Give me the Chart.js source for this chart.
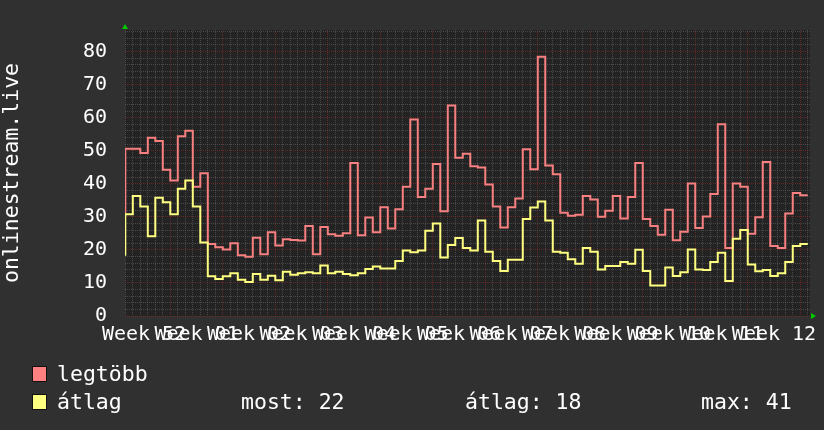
<!DOCTYPE html>
<html>
<head>
<meta charset="utf-8">
<script src="https://cdn.jsdelivr.net/npm/chart.js@4.4.1/dist/chart.umd.min.js"></script>
<style>
  html, body { margin: 0; padding: 0; background: #303030; }
  #wrap { position: relative; width: 824px; height: 430px; font-family: "DejaVu Sans Mono", monospace; color: #fff; }
  #chart { position: absolute; left: 0; top: 0; }
  .lg { position: absolute; font-size: 21.5px; line-height: 1; white-space: pre; }
  .sw { position: absolute; width: 13px; height: 14px; border: 1px solid #111; }
</style>
</head>
<body>
<div id="wrap">
  <canvas id="chart" width="824" height="430"></canvas>
  <div id="legend"></div>
</div>
<script>
// heti címkék (középre, a hét közepére)
const weekLabels = ['Week 52', 'Week 01', 'Week 02', 'Week 03', 'Week 04', 'Week 05', 'Week 06',
  'Week 07', 'Week 08', 'Week 09', 'Week 10', 'Week 11', 'Week 12'];

// napi értékek, az első elem egy rövid kezdő minta
const legtobb = [31,
  50.6, 50.6, 49.3, 53.9, 52.9, 44.2, 41.0, 54.4, 56.0, 39.1,
  43.2, 21.8, 20.8, 20.1, 22.0, 18.4, 17.9, 23.7, 18.7, 25.3,
  21.3, 23.2, 23.0, 22.8, 27.2, 18.7, 26.9, 24.7, 24.3, 25.0,
  46.3, 24.4, 29.8, 25.3, 32.9, 26.5, 32.3, 39.1, 59.4, 36.0,
  38.5, 46.0, 31.7, 63.7, 47.9, 49.1, 45.3, 44.9, 39.8, 33.1,
  26.8, 32.9, 35.5, 50.4, 44.4, 78.4, 45.5, 42.9, 31.2, 30.3,
  30.6, 36.3, 35.2, 30.0, 31.8, 36.3, 29.5, 36.0, 46.3, 29.3,
  27.2, 24.6, 32.1, 22.9, 25.5, 40.1, 26.6, 30.1, 36.9, 58.0,
  20.6, 40.1, 39.1, 24.9, 29.9, 46.6, 21.2, 20.6, 31.0, 37.2,
  36.5];

const atlag = [18.5,
  30.8, 36.3, 33.1, 24.1, 35.8, 34.4, 30.8, 38.5, 41.0, 33.1,
  22.2, 12.0, 11.2, 12.0, 12.9, 11.0, 10.3, 12.7, 11.0, 12.2,
  10.8, 13.4, 12.5, 12.9, 13.2, 12.9, 15.3, 12.9, 13.4, 12.7,
  12.3, 12.9, 14.2, 15.0, 14.4, 14.4, 16.6, 19.8, 19.3, 19.8,
  25.8, 28.0, 17.7, 21.5, 23.6, 20.6, 19.8, 28.9, 19.4, 16.6,
  13.6, 17.0, 17.0, 29.3, 32.8, 34.6, 28.9, 19.4, 19.1, 17.2,
  15.8, 20.6, 19.4, 14.1, 15.1, 15.1, 16.3, 15.8, 20.0, 13.6,
  9.2, 9.2, 14.7, 12.1, 13.2, 20.1, 14.1, 13.9, 16.3, 19.1,
  10.6, 23.4, 26.0, 15.6, 13.5, 13.9, 12.1, 12.9, 16.3, 21.2,
  21.8];

const legendStats = [['most', 22], ['átlag', 18], ['max', 41]];

const X_MIN = -0.04;
const X_MAX = 91.3;
const Y_MAX = 86.5;
const WEEK_OFFSET = 6;   // első hétfő a napok között
const FONT = '"DejaVu Sans Mono", monospace';
const MINOR = 'rgba(110,110,110,0.5)';
const MAJOR = 'rgba(160,45,45,0.5)';

function toPoints(values) {
  const pts = values.map((v, i) => ({ x: Math.max(i - 1, X_MIN), y: v }));
  pts.push({ x: values.length - 1, y: values[values.length - 1] });
  return pts;
}

function isWeekLine(v) {
  return Number.isInteger(v) && ((v - WEEK_OFFSET) % 7 + 7) % 7 === 0;
}

const bgPlugin = {
  id: 'bgPlugin',
  beforeDraw(chart) {
    const { ctx, chartArea: a } = chart;
    ctx.save();
    ctx.fillStyle = '#303030';
    ctx.fillRect(0, 0, chart.width, chart.height);
    ctx.fillStyle = '#232323';
    ctx.fillRect(a.left, a.top, a.right - a.left, a.bottom - a.top);
    ctx.restore();
  },
  afterDraw(chart) {
    const { ctx, chartArea: a } = chart;
    ctx.save();
    ctx.fillStyle = '#00cc00';
    ctx.beginPath();
    ctx.moveTo(a.left - 3, a.top - 1);
    ctx.lineTo(a.left + 3, a.top - 1);
    ctx.lineTo(a.left, a.top - 6);
    ctx.closePath();
    ctx.fill();
    ctx.beginPath();
    ctx.moveTo(a.right + 1, a.bottom - 3);
    ctx.lineTo(a.right + 1, a.bottom + 3);
    ctx.lineTo(a.right + 6, a.bottom);
    ctx.closePath();
    ctx.fill();
    ctx.restore();
  }
};

new Chart(document.getElementById('chart'), {
  type: 'line',
  data: {
    datasets: [{
      label: 'legtöbb',
      data: toPoints(legtobb),
      borderColor: '#f88080',
      borderWidth: 2,
      stepped: 'before',
      pointRadius: 0,
      order: 2
    }, {
      label: 'átlag',
      data: toPoints(atlag),
      borderColor: '#ffff80',
      borderWidth: 2,
      stepped: 'before',
      pointRadius: 0,
      order: 1
    }]
  },
  options: {
    responsive: false,
    animation: false,
    layout: { padding: { left: 0, right: 14, top: 14, bottom: 74 } },
    plugins: { legend: { display: false }, tooltip: { enabled: false } },
    scales: {
      x: {
        type: 'linear',
        min: X_MIN,
        max: X_MAX,
        afterBuildTicks(scale) {
          const ticks = [];
          for (let d = 0; d <= 91; d++) ticks.push({ value: d });
          weekLabels.forEach((l, k) => ticks.push({ value: 2.5 + 7 * k }));
          ticks.sort((a, b) => a.value - b.value);
          scale.ticks = ticks;
        },
        afterFit(scale) { scale.height = 40; },
        grid: {
          drawTicks: false,
          color: c => Number.isInteger(c.tick.value) ? (isWeekLine(c.tick.value) ? MAJOR : MINOR) : 'rgba(0,0,0,0)'
        },
        border: { display: false, dash: [1, 1] },
        ticks: {
          autoSkip: false,
          maxRotation: 0,
          padding: 7,
          color: '#ffffff',
          font: { family: FONT, size: 20 },
          callback: v => Number.isInteger(v) ? '' : weekLabels[Math.round((v - 2.5) / 7)]
        }
      },
      y: {
        min: 0,
        max: Y_MAX,
        afterBuildTicks(scale) {
          const ticks = [];
          for (let v = 0; v <= 86; v += 2) ticks.push({ value: v });
          scale.ticks = ticks;
        },
        afterFit(scale) { scale.width = 125; },
        grid: {
          drawTicks: false,
          color: c => c.tick.value % 10 === 0 ? MAJOR : MINOR
        },
        border: { display: false, dash: [1, 1] },
        ticks: {
          autoSkip: false,
          padding: 18,
          color: '#ffffff',
          font: { family: FONT, size: 20 },
          callback: v => v % 10 === 0 ? String(v) : ''
        },
        title: {
          display: true,
          text: 'onlinestream.live',
          color: '#ffffff',
          padding: 0,
          font: { family: FONT, size: 21.5 }
        }
      }
    }
  },
  plugins: [bgPlugin]
});

// jelmagyarázat
const legend = document.getElementById('legend');
legend.innerHTML = `
  <div class="sw" style="left:32px;top:366px;background:#ff8080"></div>
  <div class="lg" style="left:57px;top:363px">legtöbb</div>
  <div class="sw" style="left:32px;top:394px;background:#ffff80"></div>
  <div class="lg" style="left:57px;top:391px">átlag</div>
  <div class="lg" style="left:241px;top:391px">${legendStats[0][0]}: ${legendStats[0][1]}</div>
  <div class="lg" style="left:465px;top:391px">${legendStats[1][0]}: ${legendStats[1][1]}</div>
  <div class="lg" style="left:701px;top:391px">${legendStats[2][0]}: ${legendStats[2][1]}</div>
`;
</script>
</body>
</html>
